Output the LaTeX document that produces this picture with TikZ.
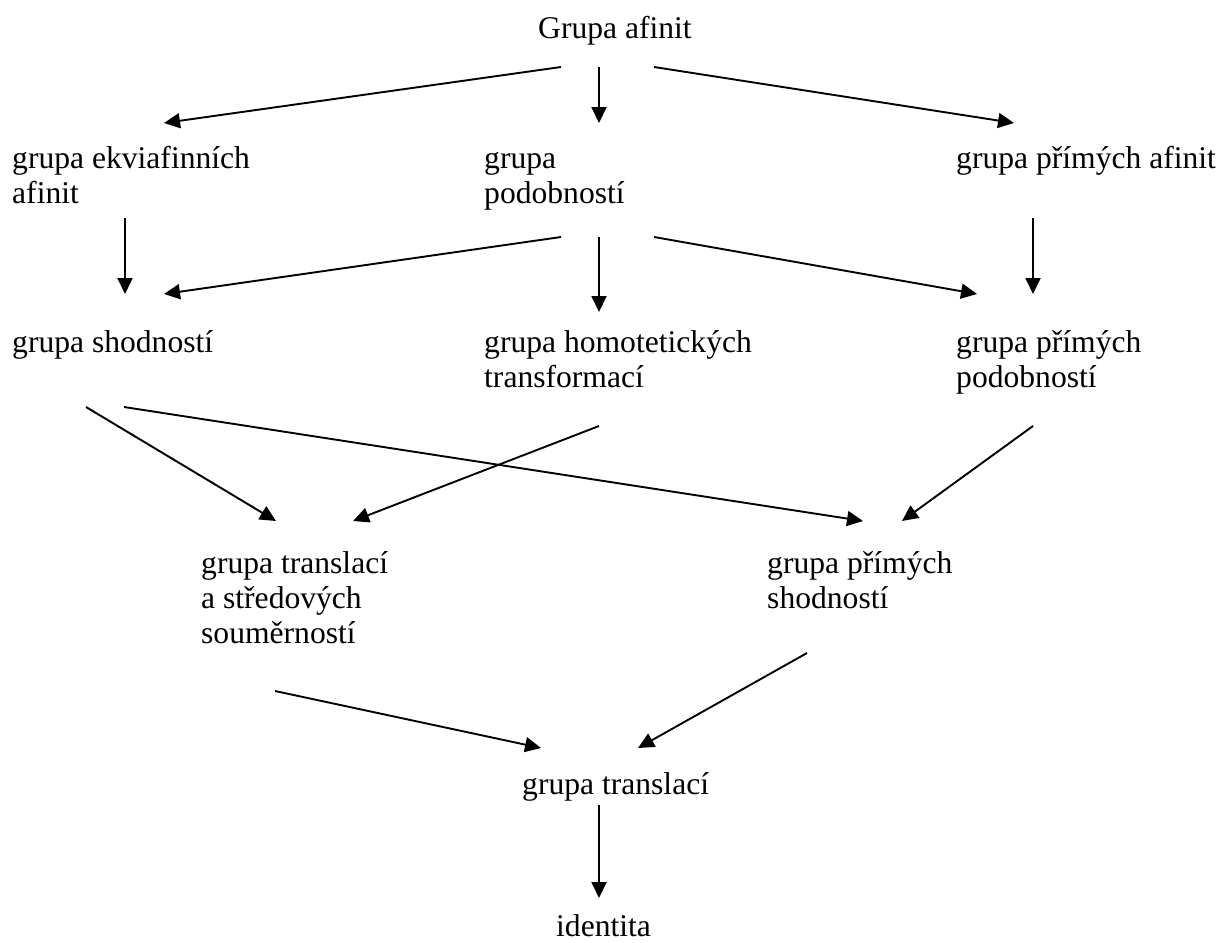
\documentclass[tikz,border=0pt]{standalone}
\usepackage{fontspec}
\setmainfont{Liberation Serif}
\usetikzlibrary{arrows.meta}
\newcommand\lnsA[2]{\vtop{\baselineskip=35pt\lineskiplimit=-100pt\hbox{#1}\hbox{#2}}}
\newcommand\lnsB[3]{\vtop{\baselineskip=35pt\lineskiplimit=-100pt\hbox{#1}\hbox{#2}\hbox{#3}}}
\begin{document}
\begin{tikzpicture}[x=1pt,y=-1pt,
  lbl/.style={anchor=base west,inner sep=0pt,font=\fontsize{31.6pt}{35pt}\selectfont},
  arr/.style={line width=1.9pt,-{Triangle[length=16pt,width=15pt]}}]
\useasboundingbox (0,0) rectangle (1225,942);
% nodes
\node[lbl] (top)   at (538,39)  {Grupa afinit};
\node[lbl] (ekv)   at (12,168)  {\lnsA{grupa ekviafinních}{afinit}};
\node[lbl] (pod)   at (484,168) {\lnsA{grupa}{podobností}};
\node[lbl] (pafin) at (956,168) {grupa přímých afinit};
\node[lbl] (shod)  at (12,352)  {grupa shodností};
\node[lbl] (homot) at (484,352) {\lnsA{grupa homotetických}{transformací}};
\node[lbl] (ppod)  at (956,352) {\lnsA{grupa přímých}{podobností}};
\node[lbl] (tsst)  at (201,573) {\lnsB{grupa translací}{a středových}{souměrností}};
\node[lbl] (psh)   at (767,573) {\lnsA{grupa přímých}{shodností}};
\node[lbl] (trans) at (522,794) {grupa translací};
\node[lbl] (ident) at (556,936) {identita};
% connector end points
\coordinate (top-l) at (561,67);  \coordinate (ekv-t) at (164,123);
\coordinate (top-c) at (599,67);  \coordinate (pod-t) at (599,123);
\coordinate (top-r) at (654,67);  \coordinate (pafin-t) at (1014,123);
\coordinate (ekv-b) at (125,218); \coordinate (shod-t) at (125,294);
\coordinate (pod-l) at (561,237); \coordinate (shod-tr) at (164,294);
\coordinate (pod-c) at (599,237); \coordinate (homot-t) at (599,312);
\coordinate (pod-r) at (654,237); \coordinate (ppod-tl) at (977,294);
\coordinate (pafin-b) at (1033,218); \coordinate (ppod-t) at (1033,294);
\coordinate (shod-b1) at (86,407);  \coordinate (tsst-t1) at (276,521);
\coordinate (shod-b2) at (124,407); \coordinate (psh-t1) at (863,521);
\coordinate (homot-b) at (599,426); \coordinate (tsst-t2) at (353,521);
\coordinate (ppod-b) at (1033,426); \coordinate (psh-t2) at (902,521);
\coordinate (tsst-b) at (275,691);  \coordinate (trans-t1) at (541,748);
\coordinate (psh-b) at (807,653);   \coordinate (trans-t2) at (638,748);
\coordinate (trans-b) at (599,805); \coordinate (ident-t) at (599,898);
% connectors
\draw[arr] (top-l) -- (ekv-t);
\draw[arr] (top-c) -- (pod-t);
\draw[arr] (top-r) -- (pafin-t);
\draw[arr] (ekv-b) -- (shod-t);
\draw[arr] (pod-l) -- (shod-tr);
\draw[arr] (pod-c) -- (homot-t);
\draw[arr] (pod-r) -- (ppod-tl);
\draw[arr] (pafin-b) -- (ppod-t);
\draw[arr] (shod-b1) -- (tsst-t1);
\draw[arr] (shod-b2) -- (psh-t1);
\draw[arr] (homot-b) -- (tsst-t2);
\draw[arr] (ppod-b) -- (psh-t2);
\draw[arr] (tsst-b) -- (trans-t1);
\draw[arr] (psh-b) -- (trans-t2);
\draw[arr] (trans-b) -- (ident-t);
\end{tikzpicture}
\end{document}
